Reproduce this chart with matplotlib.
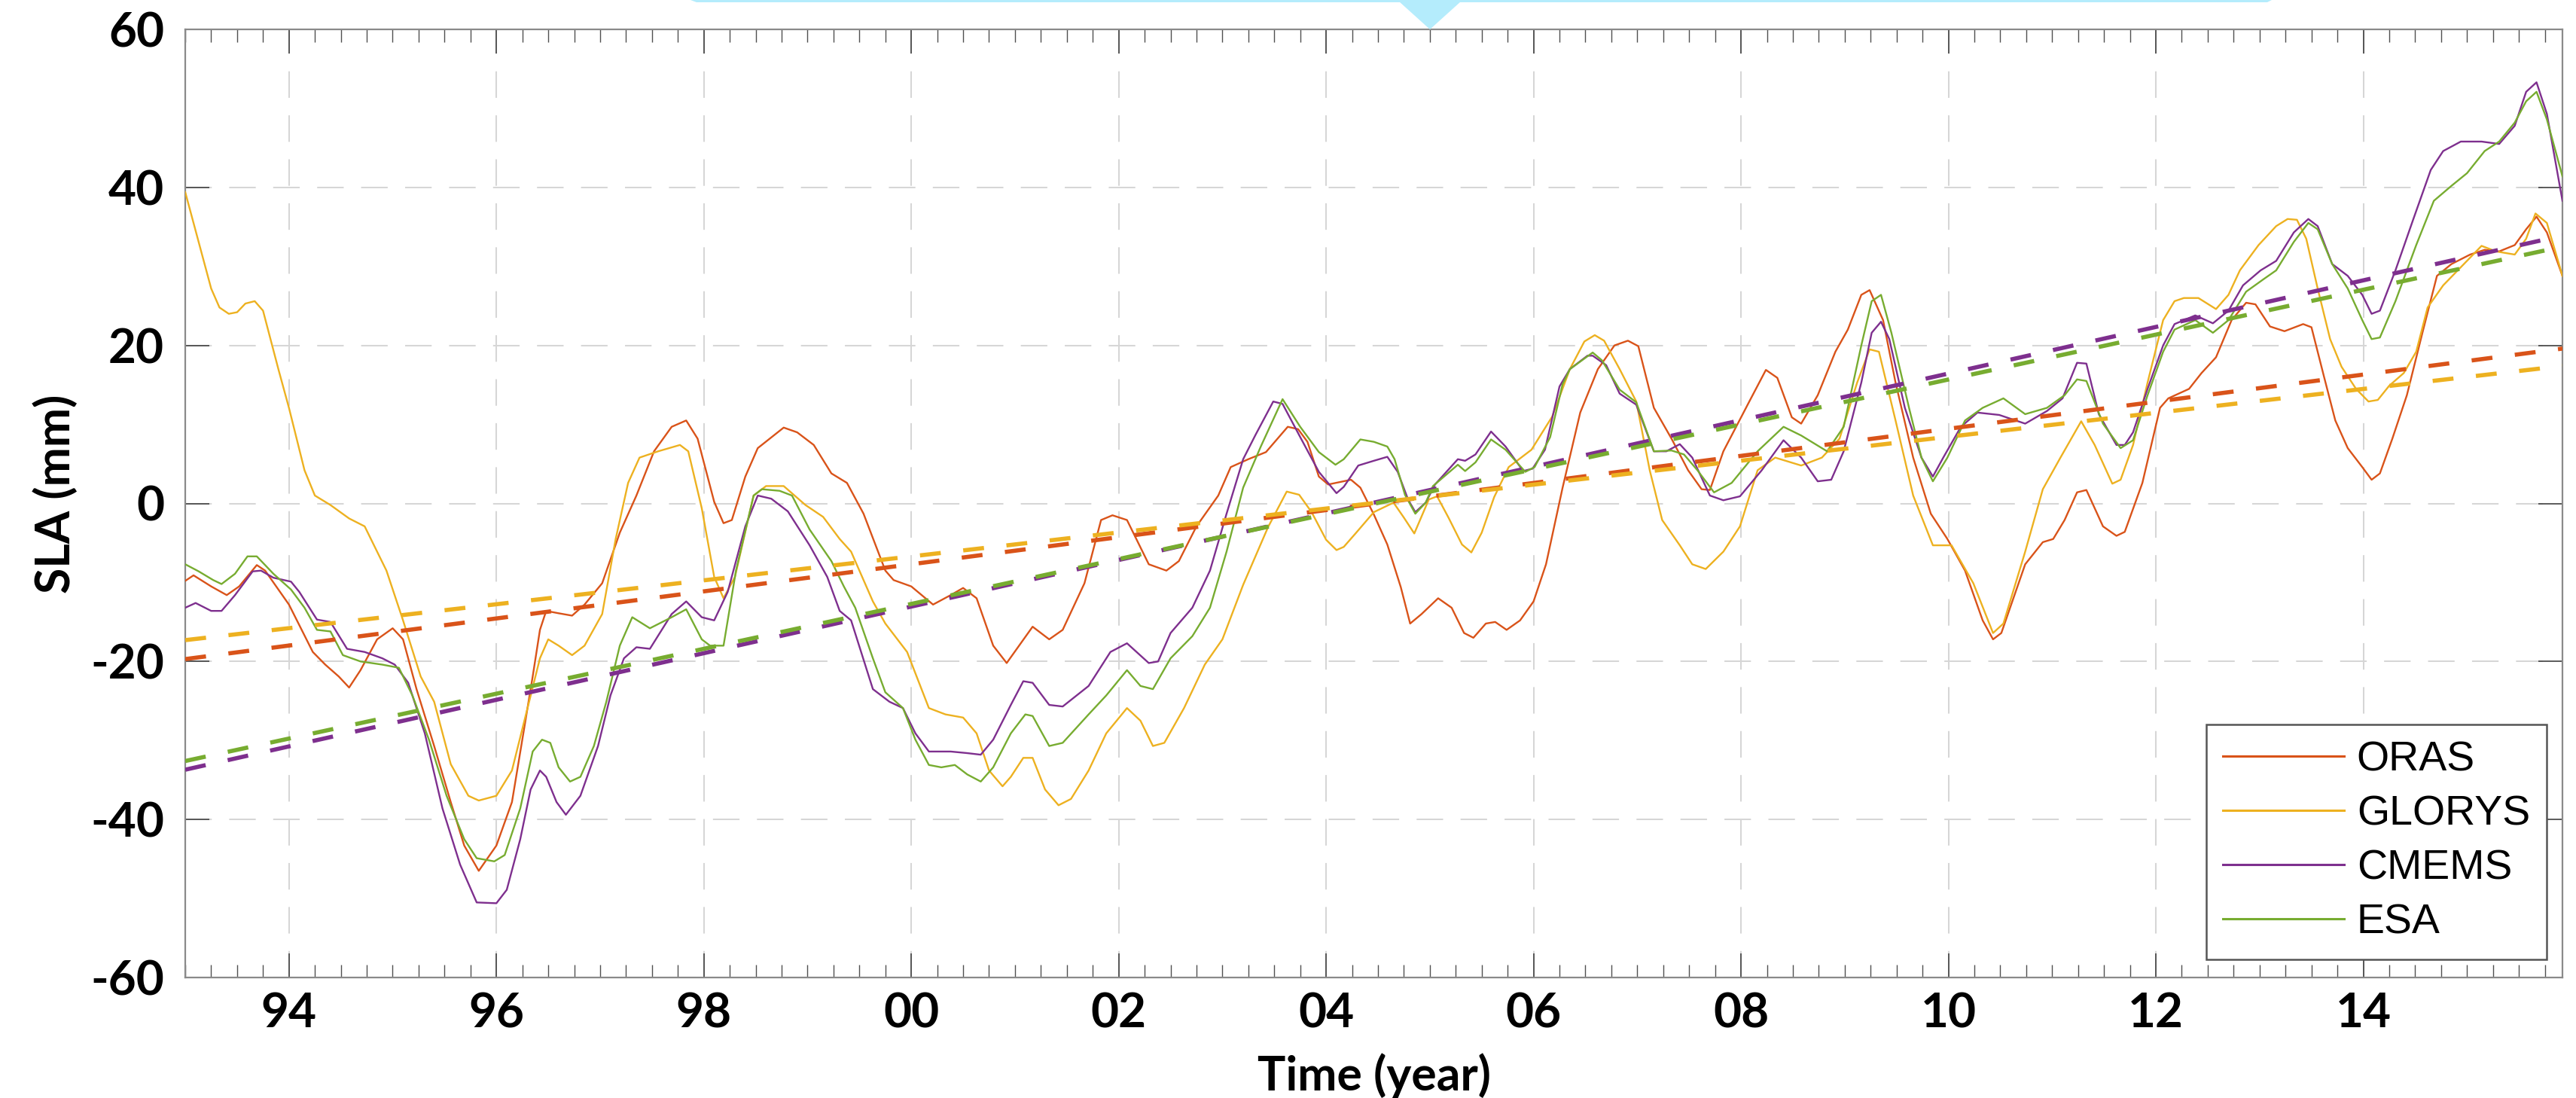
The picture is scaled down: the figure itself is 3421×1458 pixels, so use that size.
import matplotlib
matplotlib.use("Agg")
import matplotlib.pyplot as plt
from matplotlib.patches import Polygon
from matplotlib.ticker import MultipleLocator, FixedLocator

# ---------------- data ----------------
series_names = ["ORAS", "GLORYS", "CMEMS", "ESA"]
series_colors = ["#D95319", "#EDB120", "#7E2F8E", "#77AC30"]

oras_t = [1993.00, 1993.08, 1993.25, 1993.40, 1993.52, 1993.69, 1993.77, 1994.00, 1994.23, 1994.35,
          1994.48, 1994.58, 1994.69, 1994.85, 1995.00, 1995.10, 1995.23, 1995.40, 1995.56, 1995.69,
          1995.83, 1996.00, 1996.15, 1996.27, 1996.35, 1996.42, 1996.48, 1996.60, 1996.73, 1996.85,
          1997.02, 1997.19, 1997.35, 1997.52, 1997.69, 1997.83, 1997.94, 1998.10, 1998.19, 1998.27,
          1998.40, 1998.52, 1998.77, 1998.90, 1999.06, 1999.23, 1999.38, 1999.54, 1999.75, 1999.83,
          2000.00, 2000.21, 2000.38, 2000.50, 2000.63, 2000.79, 2000.92, 2001.04, 2001.17, 2001.33,
          2001.46, 2001.67, 2001.83, 2001.94, 2002.08, 2002.29, 2002.46, 2002.58, 2002.75, 2002.96,
          2003.08, 2003.25, 2003.42, 2003.63, 2003.73, 2003.82, 2003.93, 2004.02, 2004.24, 2004.33,
          2004.46, 2004.59, 2004.72, 2004.81, 2004.92, 2005.08, 2005.21, 2005.33, 2005.42, 2005.54,
          2005.63, 2005.74, 2005.87, 2006.00, 2006.12, 2006.28, 2006.45, 2006.62, 2006.78, 2006.91,
          2007.01, 2007.16, 2007.33, 2007.49, 2007.62, 2007.70, 2007.83, 2008.08, 2008.24, 2008.35,
          2008.49, 2008.58, 2008.74, 2008.91, 2009.03, 2009.16, 2009.24, 2009.37, 2009.49, 2009.66,
          2009.83, 2009.99, 2010.16, 2010.33, 2010.43, 2010.51, 2010.74, 2010.91, 2011.01, 2011.12,
          2011.24, 2011.33, 2011.49, 2011.62, 2011.70, 2011.87, 2012.04, 2012.12, 2012.32, 2012.44,
          2012.58, 2012.73, 2012.87, 2012.96, 2013.10, 2013.24, 2013.42, 2013.50, 2013.62, 2013.73,
          2013.85, 2013.99, 2014.08, 2014.16, 2014.28, 2014.42, 2014.57, 2014.71, 2014.85, 2015.03,
          2015.17, 2015.31, 2015.46, 2015.57, 2015.67, 2015.77, 2015.92]
oras_v = [-9.8, -9.1, -10.5, -11.6, -10.5, -7.8, -8.5, -12.8, -18.8, -20.4,
          -21.9, -23.3, -21.1, -17.2, -15.8, -17.2, -23.5, -30.7, -37.8, -43.3,
          -46.5, -43.3, -37.8, -28.3, -21.9, -16.0, -13.6, -13.9, -14.2, -12.8,
          -10.1, -3.7, 1.0, 6.6, 9.7, 10.5, 8.2, 0.2, -2.5, -2.1,
          3.4, 7.0, 9.6, 9.0, 7.4, 3.8, 2.6, -1.3, -8.5, -9.7,
          -10.5, -12.8, -11.6, -10.7, -12.0, -18.0, -20.2, -18.0, -15.6, -17.2,
          -16.0, -10.1, -2.1, -1.5, -2.1, -7.7, -8.5, -7.3, -2.9, 1.0,
          4.6, 5.6, 6.5, 9.7, 9.4, 7.8, 3.4, 2.4, 3.0, 2.0,
          -1.4, -5.2, -10.6, -15.2, -14.0, -12.0, -13.2, -16.4, -17.0, -15.2,
          -15.0, -16.0, -14.8, -12.4, -7.7, 2.0, 11.5, 17.0, 20.0, 20.6,
          19.9, 12.1, 8.2, 4.2, 1.8, 1.7, 6.6, 12.9, 16.9, 15.9,
          10.9, 10.1, 13.7, 19.2, 22.0, 26.4, 27.0, 23.2, 15.3, 5.8,
          -1.3, -4.5, -8.5, -14.8, -17.2, -16.4, -7.7, -4.9, -4.5, -2.1,
          1.4, 1.7, -2.9, -4.1, -3.6, 2.6, 12.1, 13.3, 14.5, 16.5,
          18.5, 23.2, 25.4, 25.2, 22.4, 21.8, 22.7, 22.3, 16.1, 10.5,
          7.0, 4.6, 3.0, 3.8, 8.2, 13.7, 21.6, 28.8, 30.3, 31.5,
          32.1, 31.9, 32.7, 34.7, 36.3, 34.3, 28.8]

glorys_t = [1993.00, 1993.25, 1993.33, 1993.42, 1993.50, 1993.58, 1993.67, 1993.75, 1993.90, 1994.00,
            1994.15, 1994.25, 1994.40, 1994.58, 1994.73, 1994.94, 1995.10, 1995.27, 1995.40, 1995.56,
            1995.73, 1995.83, 1996.00, 1996.15, 1996.27, 1996.42, 1996.50, 1996.60, 1996.73, 1996.85,
            1997.02, 1997.15, 1997.27, 1997.38, 1997.56, 1997.77, 1997.85, 1997.98, 1998.10, 1998.19,
            1998.30, 1998.48, 1998.60, 1998.77, 1998.98, 1999.15, 1999.31, 1999.42, 1999.63, 1999.75,
            1999.96, 2000.17, 2000.33, 2000.50, 2000.63, 2000.75, 2000.88, 2000.96, 2001.08, 2001.17,
            2001.29, 2001.42, 2001.54, 2001.71, 2001.88, 2002.08, 2002.21, 2002.33, 2002.44, 2002.63,
            2002.83, 2003.00, 2003.20, 2003.44, 2003.62, 2003.74, 2003.86, 2004.00, 2004.10, 2004.17,
            2004.29, 2004.46, 2004.65, 2004.75, 2004.85, 2004.99, 2005.07, 2005.18, 2005.31, 2005.40,
            2005.50, 2005.62, 2005.76, 2005.98, 2006.18, 2006.35, 2006.49, 2006.59, 2006.68, 2006.83,
            2006.99, 2007.12, 2007.24, 2007.41, 2007.53, 2007.66, 2007.83, 2007.99, 2008.16, 2008.33,
            2008.58, 2008.78, 2008.95, 2009.12, 2009.24, 2009.33, 2009.49, 2009.66, 2009.85, 2010.03,
            2010.24, 2010.43, 2010.53, 2010.74, 2010.91, 2011.08, 2011.28, 2011.41, 2011.58, 2011.66,
            2011.78, 2011.92, 2012.07, 2012.18, 2012.27, 2012.41, 2012.58, 2012.70, 2012.81, 2012.99,
            2013.16, 2013.27, 2013.36, 2013.45, 2013.56, 2013.68, 2013.79, 2013.93, 2014.05, 2014.14,
            2014.25, 2014.39, 2014.51, 2014.62, 2014.77, 2014.94, 2015.14, 2015.28, 2015.46, 2015.57,
            2015.66, 2015.77, 2015.92]
glorys_v = [39.4, 27.2, 24.8, 24.0, 24.2, 25.3, 25.6, 24.4, 16.9, 12.1,
            4.2, 1.0, -0.2, -1.9, -2.9, -8.5, -14.8, -21.9, -25.1, -33.0,
            -37.0, -37.6, -37.0, -33.8, -27.5, -19.6, -17.2, -18.0, -19.2, -18.0,
            -14.0, -4.5, 2.6, 5.8, 6.6, 7.4, 6.6, -0.6, -9.3, -12.0,
            -9.3, 1.0, 2.2, 2.2, -0.2, -1.7, -4.5, -6.1, -12.4, -15.2,
            -18.8, -25.9, -26.7, -27.1, -29.1, -33.8, -35.8, -34.6, -32.2, -32.2,
            -36.2, -38.2, -37.4, -33.8, -29.1, -25.9, -27.5, -30.7, -30.3, -25.9,
            -20.4, -17.2, -10.3, -3.0, 1.5, 1.1, -1.1, -4.6, -5.9, -5.5,
            -3.7, -1.1, 0.1, -1.8, -3.8, 0.5, 0.9, -1.8, -5.2, -6.2,
            -3.7, 0.8, 4.6, 6.8, 11.0, 17.0, 20.5, 21.3, 20.6, 17.0,
            12.9, 4.2, -2.1, -5.3, -7.7, -8.3, -6.1, -2.9, 4.2, 5.8,
            4.8, 5.8, 8.2, 15.3, 19.5, 19.2, 10.5, 1.0, -5.3, -5.3,
            -10.1, -16.4, -15.2, -6.1, 1.8, 5.8, 10.4, 7.4, 2.5, 3.0,
            7.4, 15.3, 23.2, 25.6, 26.0, 26.0, 24.6, 26.4, 29.5, 32.7,
            35.1, 36.0, 35.9, 33.5, 27.2, 20.8, 17.3, 14.5, 12.9, 13.1,
            14.9, 16.5, 19.2, 24.8, 27.6, 29.9, 32.6, 31.9, 31.5, 33.5,
            36.7, 35.5, 28.8]

cmems_t = [1993.00, 1993.10, 1993.25, 1993.35, 1993.48, 1993.65, 1993.73, 1993.85, 1994.02, 1994.10,
           1994.27, 1994.40, 1994.56, 1994.73, 1994.90, 1995.02, 1995.15, 1995.31, 1995.48, 1995.65,
           1995.81, 1996.00, 1996.10, 1996.23, 1996.33, 1996.42, 1996.48, 1996.58, 1996.67, 1996.81,
           1996.98, 1997.10, 1997.23, 1997.35, 1997.48, 1997.69, 1997.83, 1997.98, 1998.10, 1998.23,
           1998.40, 1998.52, 1998.65, 1998.81, 1999.02, 1999.19, 1999.31, 1999.42, 1999.63, 1999.79,
           1999.92, 2000.04, 2000.17, 2000.38, 2000.54, 2000.67, 2000.79, 2000.96, 2001.08, 2001.17,
           2001.33, 2001.46, 2001.71, 2001.92, 2002.08, 2002.29, 2002.38, 2002.50, 2002.71, 2002.88,
           2003.04, 2003.20, 2003.32, 2003.49, 2003.58, 2003.75, 2003.93, 2004.10, 2004.17, 2004.31,
           2004.46, 2004.59, 2004.69, 2004.79, 2004.86, 2004.96, 2005.05, 2005.27, 2005.34, 2005.44,
           2005.59, 2005.73, 2005.90, 2005.99, 2006.11, 2006.25, 2006.35, 2006.52, 2006.57, 2006.70,
           2006.83, 2006.99, 2007.16, 2007.28, 2007.41, 2007.53, 2007.70, 2007.83, 2007.99, 2008.20,
           2008.41, 2008.58, 2008.74, 2008.87, 2008.99, 2009.16, 2009.26, 2009.35, 2009.43, 2009.58,
           2009.74, 2009.85, 2009.95, 2010.12, 2010.28, 2010.49, 2010.74, 2010.95, 2011.10, 2011.24,
           2011.33, 2011.45, 2011.62, 2011.70, 2011.78, 2011.92, 2012.07, 2012.18, 2012.38, 2012.55,
           2012.70, 2012.84, 2013.01, 2013.16, 2013.33, 2013.47, 2013.56, 2013.70, 2013.85, 2013.99,
           2014.08, 2014.16, 2014.31, 2014.48, 2014.65, 2014.77, 2014.94, 2015.14, 2015.31, 2015.46,
           2015.57, 2015.67, 2015.77, 2015.92]
cmems_v = [-13.2, -12.6, -13.6, -13.6, -11.6, -8.6, -8.5, -9.4, -9.9, -11.2,
           -14.7, -15.0, -18.4, -18.8, -19.6, -20.4, -22.7, -29.1, -38.6, -45.7,
           -50.5, -50.6, -48.9, -42.5, -36.2, -33.8, -34.6, -37.8, -39.4, -37.0,
           -30.7, -24.3, -19.6, -18.2, -18.4, -14.0, -12.4, -14.4, -14.8, -11.2,
           -2.9, 1.0, 0.6, -1.0, -5.3, -9.3, -13.6, -14.8, -23.5, -25.1,
           -25.9, -29.1, -31.4, -31.4, -31.6, -31.8, -29.9, -25.5, -22.5, -22.7,
           -25.5, -25.7, -23.1, -18.8, -17.7, -20.2, -20.0, -16.4, -13.2, -8.5,
           -1.3, 5.6, 8.7, 12.9, 12.6, 8.4, 4.0, 1.3, 2.1, 4.8,
           5.4, 5.9, 4.0, 0.5, -1.1, 0.1, 2.4, 5.6, 5.4, 6.2,
           9.1, 7.2, 4.1, 4.4, 6.8, 14.8, 17.0, 18.7, 18.7, 17.5,
           13.9, 12.5, 6.6, 6.6, 7.5, 5.8, 1.0, 0.4, 0.9, 4.2,
           8.0, 5.8, 2.8, 3.0, 6.6, 15.3, 21.6, 23.0, 20.8, 12.1,
           5.8, 3.4, 5.8, 9.7, 11.5, 11.2, 10.1, 11.7, 13.3, 17.8,
           17.7, 11.3, 7.4, 7.4, 9.0, 14.5, 20.0, 22.7, 23.8, 22.8,
           24.4, 27.6, 29.5, 30.7, 34.3, 36.0, 35.1, 30.3, 28.8, 26.4,
           24.0, 24.4, 29.5, 35.9, 42.2, 44.6, 45.8, 45.8, 45.5, 47.8,
           52.1, 53.3, 49.3, 38.3]

esa_t = [1993.00, 1993.13, 1993.27, 1993.35, 1993.48, 1993.60, 1993.69, 1993.85, 1994.02, 1994.15,
         1994.27, 1994.40, 1994.52, 1994.69, 1994.90, 1995.06, 1995.19, 1995.35, 1995.52, 1995.69,
         1995.81, 1995.98, 1996.08, 1996.23, 1996.35, 1996.44, 1996.52, 1996.60, 1996.71, 1996.81,
         1996.94, 1997.06, 1997.19, 1997.31, 1997.48, 1997.69, 1997.83, 1997.98, 1998.06, 1998.19,
         1998.31, 1998.48, 1998.56, 1998.73, 1998.85, 1999.02, 1999.23, 1999.35, 1999.46, 1999.63,
         1999.75, 1999.92, 2000.04, 2000.17, 2000.29, 2000.42, 2000.54, 2000.67, 2000.79, 2000.96,
         2001.10, 2001.17, 2001.33, 2001.46, 2001.71, 2001.88, 2002.08, 2002.21, 2002.33, 2002.50,
         2002.71, 2002.88, 2003.04, 2003.20, 2003.37, 2003.58, 2003.75, 2003.93, 2004.09, 2004.17,
         2004.33, 2004.46, 2004.59, 2004.66, 2004.76, 2004.86, 2004.96, 2005.03, 2005.27, 2005.34,
         2005.44, 2005.59, 2005.73, 2005.92, 2006.01, 2006.16, 2006.28, 2006.35, 2006.57, 2006.66,
         2006.83, 2006.99, 2007.16, 2007.33, 2007.45, 2007.58, 2007.74, 2007.91, 2008.16, 2008.41,
         2008.58, 2008.83, 2008.99, 2009.16, 2009.26, 2009.35, 2009.45, 2009.62, 2009.74, 2009.85,
         2009.99, 2010.16, 2010.33, 2010.53, 2010.74, 2010.95, 2011.12, 2011.24, 2011.33, 2011.49,
         2011.66, 2011.78, 2011.92, 2012.07, 2012.18, 2012.38, 2012.55, 2012.70, 2012.87, 2013.04,
         2013.16, 2013.33, 2013.47, 2013.56, 2013.70, 2013.85, 2013.99, 2014.08, 2014.16, 2014.31,
         2014.51, 2014.68, 2014.85, 2015.00, 2015.17, 2015.31, 2015.46, 2015.57, 2015.67, 2015.77,
         2015.92]
esa_v = [-7.7, -8.6, -9.7, -10.2, -8.9, -6.7, -6.7, -8.9, -10.9, -13.2,
         -16.0, -16.2, -19.2, -20.0, -20.4, -20.8, -24.3, -29.9, -37.0, -42.5,
         -44.9, -45.3, -44.5, -38.6, -31.4, -29.9, -30.3, -33.4, -35.2, -34.6,
         -30.7, -25.1, -18.0, -14.4, -15.8, -14.4, -13.4, -17.2, -18.0, -18.0,
         -8.5, 1.0, 1.8, 1.6, 1.0, -3.3, -7.3, -10.5, -13.2, -19.6,
         -23.9, -25.9, -29.9, -33.1, -33.4, -33.1, -34.3, -35.2, -33.4, -29.1,
         -26.7, -26.9, -30.7, -30.3, -26.7, -24.3, -21.1, -23.1, -23.5, -19.6,
         -16.8, -13.2, -6.1, 2.0, 7.2, 13.2, 9.7, 6.5, 4.9, 5.6,
         8.1, 7.8, 7.2, 5.6, 1.1, -1.3, 0.1, 2.2, 4.9, 4.1,
         5.2, 8.1, 6.8, 4.0, 4.6, 8.4, 15.1, 17.0, 19.1, 18.1,
         14.4, 12.8, 6.6, 6.7, 6.2, 4.2, 1.4, 2.6, 6.6, 9.7,
         8.6, 6.6, 9.7, 20.0, 25.6, 26.4, 21.6, 12.1, 5.8, 2.8,
         5.8, 10.5, 12.1, 13.3, 11.3, 12.1, 13.7, 15.7, 15.5, 10.1,
         7.0, 8.0, 13.7, 19.2, 22.0, 23.2, 21.6, 23.2, 26.8, 28.4,
         29.5, 33.1, 35.5, 34.7, 30.3, 27.2, 23.2, 20.8, 21.0, 25.6,
         32.7, 38.3, 40.2, 41.8, 44.6, 45.8, 48.2, 50.9, 52.1, 48.6,
         41.4]

# linear trend lines: value at start and end of the record
trend_t = [1993.0, 2015.92]
trend_start = [-19.7, -17.3, -33.7, -32.6]
trend_end = [19.6, 17.4, 33.9, 32.5]

xtick_years = [1994, 1996, 1998, 2000, 2002, 2004, 2006, 2008, 2010, 2012, 2014]
xtick_labels = ["94", "96", "98", "00", "02", "04", "06", "08", "10", "12", "14"]
ytick_vals = [-60, -40, -20, 0, 20, 40, 60]
ytick_labels = ["-60", "-40", "-20", "0", "20", "40", "60"]

series_t = [oras_t, glorys_t, cmems_t, esa_t]
series_v = [oras_v, glorys_v, cmems_v, esa_v]

# ---------------- figure ----------------
W, H, DPI = 3421, 1458, 100
fig = plt.figure(figsize=(W / DPI, H / DPI), dpi=DPI)
ax = fig.add_axes([246 / W, 1 - 1298 / H, (3403 - 246) / W, (1298 - 39) / H])

tick_font = dict(family="Lato", weight="bold", size=46)

for name, col, tt, vv in zip(series_names, series_colors, series_t, series_v):
    ax.plot(tt, vv, color=col, lw=1.7, label=name, zorder=3)

for col, a, b in zip(series_colors, trend_start, trend_end):
    ax.plot(trend_t, [a, b], color=col, lw=4.0, linestyle=(0, (5.0, 5.4)),
            solid_capstyle="butt", dash_capstyle="butt", zorder=4)

ax.set_xlim(1993.0, 2015.92)
ax.set_ylim(-60, 60)
ax.xaxis.set_major_locator(FixedLocator(xtick_years))
ax.set_xticklabels(xtick_labels, fontdict=tick_font)
ax.xaxis.set_minor_locator(MultipleLocator(0.25))
ax.yaxis.set_major_locator(FixedLocator(ytick_vals))
ax.set_yticklabels(ytick_labels, fontdict=tick_font)

ax.tick_params(axis="both", which="major", direction="in", length=23, width=1.2,
               color="#404040", top=True, right=True)
ax.tick_params(axis="x", which="major", pad=14)
ax.tick_params(axis="y", which="major", pad=20)
ax.tick_params(axis="x", which="minor", direction="in", length=12, width=1.0,
               color="#505050", top=True, bottom=True)

ax.grid(True, which="major", color="#d6d6d6", lw=1.45, linestyle=(0, (17.5, 11.5)), zorder=0)
ax.set_axisbelow(True)
for sp in ax.spines.values():
    sp.set_color("#8a8a8a")
    sp.set_linewidth(1.6)

ax.set_xlabel("Time (year)", fontdict=dict(family="Lato", weight="bold", size=45))
ax.xaxis.set_label_coords(0.5, -0.080)
ax.set_ylabel("SLA (mm)", fontdict=dict(family="Lato", weight="bold", size=45))
ax.yaxis.set_label_coords(-0.045, 0.51)

leg = ax.legend(loc="lower right", bbox_to_anchor=(0.9934, 0.019), borderaxespad=0,
                prop=dict(family="Liberation Sans", size=40), handlelength=2.9,
                handletextpad=0.3, labelspacing=0.36, borderpad=0.4,
                fancybox=False, framealpha=1.0, edgecolor="#555555")
leg.get_frame().set_linewidth(1.8)
for line in leg.get_lines():
    line.set_linewidth(2.2)

# decorative light-blue callout edge at the top of the image
band = Polygon([(917 / W, 1.0), (3017 / W, 1.0), (3011 / W, 1 - 3 / H), (925 / W, 1 - 3 / H)],
               closed=True, transform=fig.transFigure, facecolor="#B4ECFC", edgecolor="none")
tri = Polygon([(1858 / W, 1 - 2 / H), (1940 / W, 1 - 2 / H), (1899 / W, 1 - 39 / H)],
              closed=True, transform=fig.transFigure, facecolor="#B4ECFC", edgecolor="none")
fig.patches.extend([band, tri])

fig.savefig("out.png", dpi=DPI)
